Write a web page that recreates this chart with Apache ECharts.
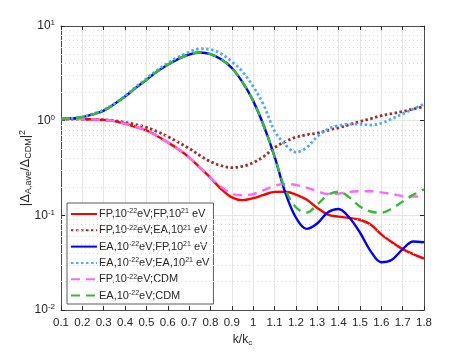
<!DOCTYPE html>
<html><head><meta charset="utf-8">
<script src="https://cdn.jsdelivr.net/npm/echarts@6/dist/echarts.min.js"></script>
<style>html,body{margin:0;padding:0;background:#fff}#c{width:469px;height:352px}</style>
</head><body><div id="c"></div>
<script>
// k/k_c sample grid
const kGrid = [0.10,0.15,0.20,0.25,0.30,0.35,0.40,0.45,0.50,0.55,0.60,0.65,0.70,0.75,0.80,0.85,0.90,0.95,1.00,1.05,1.10,1.15,1.20,1.25,1.30,1.35,1.40,1.45,1.50,1.55,1.60,1.65,1.70,1.75,1.80];
const xTicks = ['0.1','0.2','0.3','0.4','0.5','0.6','0.7','0.8','0.9','1','1.1','1.2','1.3','1.4','1.5','1.6','1.7','1.8'];
const yTicks = [0.01, 0.1, 1, 10];

const fpFP = [1.04,1.05,1.04,1.03,1.02,0.99,0.93,0.86,0.79,0.69,0.59,0.50,0.41,0.32,0.25,0.19,0.155,0.145,0.152,0.165,0.177,0.178,0.166,0.147,0.12,0.102,0.097,0.094,0.09,0.08,0.063,0.052,0.044,0.039,0.035];
const fpEA = [1.04,1.04,1.04,1.03,1.02,1.00,0.96,0.91,0.85,0.77,0.68,0.59,0.51,0.43,0.37,0.335,0.32,0.33,0.36,0.42,0.52,0.60,0.67,0.71,0.74,0.79,0.84,0.91,0.98,1.05,1.13,1.19,1.25,1.33,1.41];
const eaFP = [1.04,1.06,1.09,1.17,1.28,1.50,1.80,2.22,2.70,3.30,3.90,4.50,5.00,5.25,5.05,4.45,3.60,2.55,1.62,0.88,0.42,0.175,0.095,0.072,0.082,0.108,0.117,0.095,0.066,0.042,0.032,0.034,0.044,0.053,0.052];
const eaEA = [1.04,1.06,1.10,1.18,1.30,1.52,1.83,2.27,2.78,3.40,4.05,4.70,5.30,5.75,5.65,5.10,4.20,3.30,2.30,1.45,0.78,0.56,0.465,0.52,0.68,0.82,0.89,0.92,0.92,0.90,0.94,1.05,1.18,1.33,1.50];
const fpCDM = [1.04,1.05,1.04,1.03,1.02,0.99,0.93,0.86,0.79,0.69,0.59,0.50,0.41,0.32,0.25,0.20,0.17,0.163,0.168,0.185,0.205,0.215,0.21,0.196,0.18,0.168,0.17,0.177,0.18,0.18,0.175,0.168,0.16,0.158,0.16];
const eaCDM = [1.04,1.06,1.09,1.17,1.28,1.50,1.80,2.22,2.70,3.30,3.90,4.50,5.00,5.25,5.05,4.45,3.60,2.55,1.62,0.88,0.42,0.19,0.122,0.107,0.13,0.165,0.178,0.155,0.124,0.11,0.107,0.118,0.14,0.165,0.188];

const seriesNames = ['FP;FP','FP;EA','EA;FP','EA;EA','FP;CDM','EA;CDM'];
const legendLabels = {
  'FP;FP': 'FP,10{sup|-22}eV;FP,10{sup|21} eV',
  'FP;EA': 'FP,10{sup|-22}eV;EA,10{sup|21} eV',
  'EA;FP': 'EA,10{sup|-22}eV;FP,10{sup|21} eV',
  'EA;EA': 'EA,10{sup|-22}eV;EA,10{sup|21} eV',
  'FP;CDM': 'FP,10{sup|-22}eV;CDM',
  'EA;CDM': 'EA,10{sup|-22}eV;CDM'
};
const seriesValues = [fpFP, fpEA, eaFP, eaEA, fpCDM, eaCDM];
const colors = ['#ff0000','#a52a2a','#0000ff','#4daaff','#ff66ff','#33bb33'];
const lineTypes = ['solid',[2.5,2.5],'solid',[2.5,2.5],[9,6],[9,6]];
const lineWidths = [2.4,2.8,2.4,2.8,2.4,2.4];

const FONT = "'Liberation Sans', Arial, sans-serif";
const TXT = '#262626';

// minor grid values (2..9 per decade)
const minorLines = [];
for (let d = -2; d < 1; d++) for (let m = 2; m <= 9; m++) minorLines.push({yAxis: m * Math.pow(10, d)});

const series = seriesNames.map((n, i) => ({
  name: n, type: 'line', xAxisIndex: 0, yAxisIndex: 0,
  data: kGrid.map((k, j) => [k, seriesValues[i][j]]),
  smooth: 0.35, symbol: 'none', showSymbol: false,
  lineStyle: {color: colors[i], width: lineWidths[i], type: lineTypes[i], cap: 'butt'},
  itemStyle: {color: colors[i]},
  z: 3 + i
}));
series.push({
  name: '_grid', type: 'line', data: [], xAxisIndex: 0, yAxisIndex: 0, silent: true,
  markLine: {silent: true, symbol: 'none', label: {show: false},
    lineStyle: {color: '#d9d9d9', type: [1,3], width: 1}, data: minorLines, animation: false},
  z: 1
});

const sup = {fontSize: 8, verticalAlign: 'top', padding: [0,0,6,0], fontFamily: FONT, color: TXT};
const sub = {fontSize: 8, verticalAlign: 'bottom', padding: [6,0,0,0], fontFamily: FONT, color: TXT};

const chart = echarts.init(document.getElementById('c'), null, {renderer: 'canvas'});
chart.setOption({
  animation: false,
  backgroundColor: '#fff',
  grid: {left: 61, right: 45, top: 26, bottom: 41, containLabel: false},
  legend: {
    data: seriesNames.map(n => ({name: n, itemStyle: {opacity: 0}})), orient: 'vertical', left: 67, top: 203,
    width: 147, padding: [5, 4, 3, 3],
    backgroundColor: '#fff', borderColor: '#333', borderWidth: 0.8,
    itemWidth: 26, itemHeight: 10, itemGap: 4.8,
    formatter: n => legendLabels[n],
    textStyle: {fontFamily: FONT, fontSize: 11, color: TXT, padding: [0,0,0,-3],
      rich: {sup: {fontSize: 7, verticalAlign: 'top', padding: [0,0,5,0], fontFamily: FONT, color: TXT}}}
  },
  xAxis: [{
    type: 'value', min: 0.1, max: 1.8, interval: 0.1, position: 'bottom',
    name: 'k/k{sub|c}', nameLocation: 'middle', nameGap: 20,
    nameTextStyle: {fontFamily: FONT, fontSize: 12, color: TXT, rich: {sub: sub}},
    axisLine: {onZero: false, lineStyle: {color: TXT, width: 0.8}},
    axisTick: {inside: true, length: 4, lineStyle: {color: TXT}},
    axisLabel: {fontFamily: FONT, fontSize: 11.5, color: TXT, margin: 7,
      formatter: v => { const i = Math.round((v - 0.1) * 10); return xTicks[i] !== undefined ? xTicks[i] : ''; }},
    splitLine: {show: true, lineStyle: {color: '#e6e6e6', width: 1}}
  }, {
    type: 'value', min: 0.1, max: 1.8, interval: 0.1, position: 'top',
    axisLine: {onZero: false, lineStyle: {color: TXT, width: 0.8}},
    axisTick: {inside: true, length: 4, lineStyle: {color: TXT}},
    axisLabel: {show: false}, splitLine: {show: false}
  }],
  yAxis: [{
    type: 'log', logBase: 10, min: yTicks[0], max: yTicks[yTicks.length - 1], position: 'left',
    name: '|Δ{sub|A,ave}/Δ{sub|CDM}|{sup|2}', nameLocation: 'middle', nameGap: 28, nameRotate: 90,
    nameMoveOverlap: false,
    nameTextStyle: {fontFamily: FONT, fontSize: 13, color: TXT, rich: {sub: {fontSize: 9, verticalAlign: 'bottom', padding: [6,0,0,0], fontFamily: FONT, color: TXT}, sup: {fontSize: 9, verticalAlign: 'top', padding: [0,0,6,0], fontFamily: FONT, color: TXT}}},
    axisLine: {onZero: false, lineStyle: {color: TXT, width: 0.8}},
    axisTick: {inside: true, length: 4, lineStyle: {color: TXT}},
    axisLabel: {fontFamily: FONT, fontSize: 12, color: TXT, margin: 6,
      formatter: v => '10{sup|' + Math.round(Math.log10(v)) + '}',
      rich: {sup: {fontSize: 8, verticalAlign: 'top', padding: [0,0,6,0], fontFamily: FONT, color: TXT}}},
    splitLine: {show: true, lineStyle: {color: '#e6e6e6', width: 1}}
  }, {
    type: 'log', logBase: 10, min: yTicks[0], max: yTicks[yTicks.length - 1], position: 'right',
    axisLine: {onZero: false, lineStyle: {color: TXT, width: 0.8}},
    axisTick: {inside: true, length: 4, lineStyle: {color: TXT}},
    axisLabel: {show: false}, splitLine: {show: false}
  }],
  series: series
});
</script></body></html>
